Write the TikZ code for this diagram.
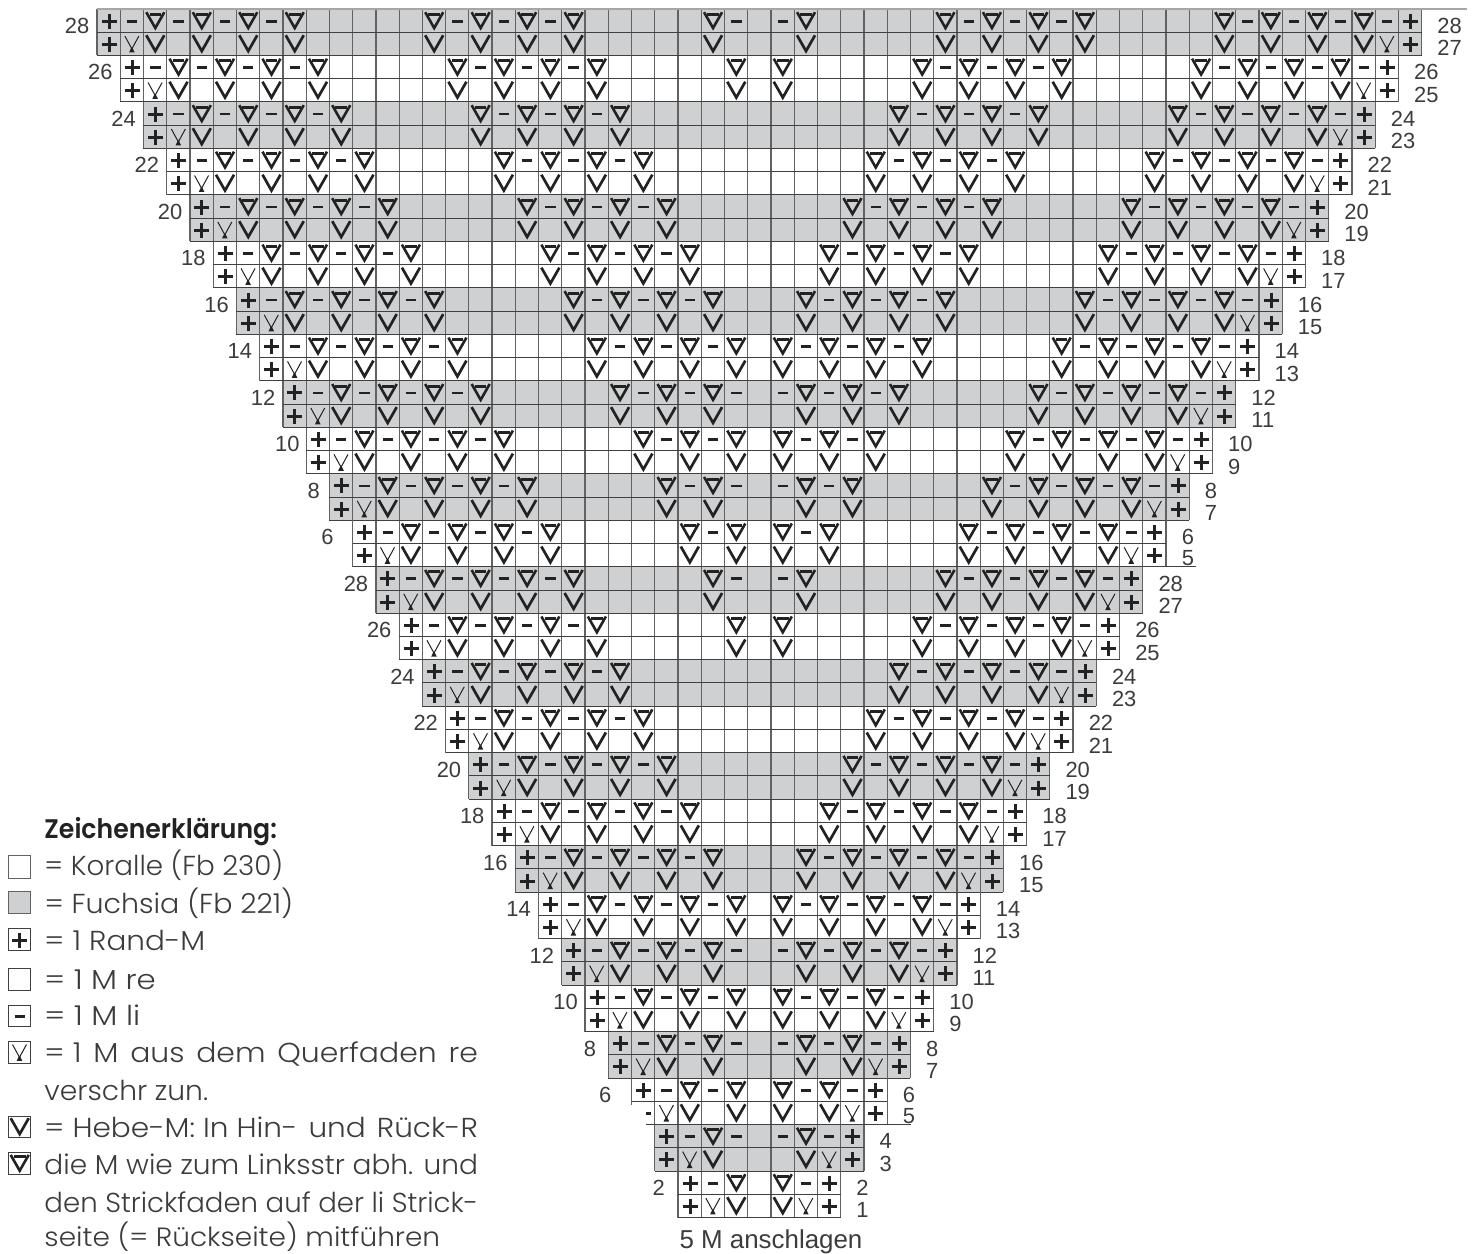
\documentclass[tikz,border=0pt]{standalone}
\usepackage{fontspec}
\usepackage{graphicx}
\setmainfont{Liberation Sans}
\newfontfamily\gothic{Poppins Light}
\newfontfamily\gothicbold{Poppins SemiBold}
\definecolor{chartgray}{HTML}{CFD0D2}
\definecolor{vline}{HTML}{626262}
\definecolor{hline}{HTML}{404040}
\definecolor{ink}{HTML}{222222}
\definecolor{labelink}{HTML}{3C3C3C}
\tikzset{
  gplus/.pic={\draw[ink,line width=3bp] (-7.1,.5)--(7.9,.5) (.4,-7)--(.4,8);},
  gminus/.pic={\draw[ink,line width=2.8bp] (-5,.5)--(5.4,.5);},
  gvee/.pic={\draw[ink,line width=2.7bp,miter limit=10] (-8.8,-8.6)--(.2,7.2)--(9.2,-8.6);},
  gtri/.pic={\draw[ink,line width=2.6bp,miter limit=10] (-8.8,-8.4)--(.2,7.4)--(9.2,-8.4);
             \draw[ink,line width=3bp] (-5.6,-6.4)--(6,-6.4);},
  gyarn/.pic={\draw[ink,line width=1bp] (-7,-7.8)--(0,5)--(7,-7.8);
              \fill[ink] (-2.8,8.6)--(2.8,8.6)--(.6,4)--(-.6,4)--cycle;},
  rownum/.style={inner sep=0pt,text=labelink,font=\fontsize{22}{24}\selectfont},
  legendtext/.style={inner sep=0pt,anchor=base west,text=labelink,font=\gothic\fontsize{27.5}{30}\selectfont},
  legendbox/.style={draw=hline,line width=1bp},
}
\begin{document}
\begin{tikzpicture}[x=1bp,y=-1bp]
\useasboundingbox (0,0) rectangle (1473,1253);
\def\cc{23.24}
\foreach \pp in {0,...,25}{
  \pgfmathsetmacro\xl{97+\pp*\cc}
  \pgfmathsetmacro\xr{97+(57-\pp)*\cc}
  \pgfmathsetmacro\yt{9+2*\pp*\cc}
  \pgfmathsetmacro\ym{\yt+\cc}
  \pgfmathsetmacro\yb{\yt+2*\cc}
  \pgfmathtruncatemacro\grey{mod(\pp,2)}
  \ifnum\grey=0 \fill[chartgray] (\xl,\yt) rectangle (\xr,\yb); \fi
  \pgfmathtruncatemacro\nc{57-2*\pp}
  \foreach \kk in {0,...,\nc}{
    \pgfmathsetmacro\xv{\xl+\kk*\cc}
    \draw[vline,line width=1.25bp] (\xv,\yt)--(\xv,\yb);
  }
  \draw[hline,line width=1bp] (\xl,\yt)--(\xr,\yt) (\xl,\ym)--(\xr,\ym) (\xl,\yb)--(\xr,\yb);
  \pgfmathsetmacro\yua{\yt+.5*\cc}
  \pgfmathsetmacro\yub{\ym+.5*\cc}
  \pgfmathtruncatemacro\jmax{27-\pp}
  \foreach \jj in {0,...,\jmax}{
    \pgfmathtruncatemacro\mm{mod(\jj,12)}
    \pgfmathsetmacro\xa{97+(\pp+\jj+.5)*\cc}
    \pgfmathsetmacro\xb{97+(56-\pp-\jj+.5)*\cc}
    \ifnum\jj=0
      \pic at (\xa,\yua) {gplus}; \pic at (\xa,\yub) {gplus};
      \pic at (\xb,\yua) {gplus}; \pic at (\xb,\yub) {gplus};
    \else\ifnum\jj=1
      \pic at (\xa,\yua) {gminus}; \pic at (\xa,\yub) {gyarn};
      \pic at (\xb,\yua) {gminus}; \pic at (\xb,\yub) {gyarn};
    \else
      \ifnum\mm=2 \def\gk{1}\else\ifnum\mm=4 \def\gk{1}\else\ifnum\mm=6 \def\gk{1}\else\ifnum\mm=8 \def\gk{1}\else
      \ifnum\mm=3 \def\gk{2}\else\ifnum\mm=5 \def\gk{2}\else\ifnum\mm=7 \def\gk{2}\else\def\gk{0}\fi\fi\fi\fi\fi\fi\fi
      \ifnum\gk=1
        \pic at (\xa,\yua) {gtri}; \pic at (\xa,\yub) {gvee};
        \pic at (\xb,\yua) {gtri}; \pic at (\xb,\yub) {gvee};
      \fi
      \ifnum\gk=2
        \pic at (\xa,\yua) {gminus};
        \pic at (\xb,\yua) {gminus};
      \fi
    \fi\fi
  }
  % row numbers
  \pgfmathtruncatemacro\nup{\pp<12 ? 28-2*\pp : 28-2*(\pp-12)}
  \pgfmathtruncatemacro\nlo{\nup-1}
  \pgfmathsetmacro\gapl{{7.5,7.5,7.5,7.5,7.5,7.5,7.5,7.5,7.5,6.5,9.5,19,7.5,7.5,7.5,7.5,7.5,7.5,7.5,7.5,7.5,7,12,20,0,13}[\pp]}
  \pgfmathsetmacro\lx{\xl-\gapl}
  \pgfmathsetmacro\rx{\xr+15.5}
  \pgfmathsetmacro\bla{\yua+12.8}
  \pgfmathsetmacro\blb{\yub+12}
  \ifnum\nup=4 \else \node[rownum,anchor=base east] (L\pp) at (\lx,\bla) {\nup}; \fi
  \node[rownum,anchor=base west] (Ra\pp) at (\rx,\bla) {\nup};
  \ifnum\nlo=5 \pgfmathsetmacro\blb{\yub+10.5}\fi
  \node[rownum,anchor=base west] (Rb\pp) at (\rx,\blb) {\nlo};
}
% top rule and rules under the two "5" rows
\draw[gray!70,line width=1.3bp] (97,9)--(1467,9);
\draw[hline,line width=1bp] (1166,566.8)--(1196,566.8);
\draw[hline,line width=1bp] (887,1124.5)--(911,1124.5);
% printing defect beside lower row 5
\fill[white] (629,1105) rectangle (646,1126);
\draw[hline,line width=1bp] (646,1124.5)--(655,1124.5);
% caption
\node[inner sep=0pt,anchor=base,text=labelink,font=\fontsize{26}{28}\selectfont] (cap) at (771,1248) {5 M anschlagen};
% legend
\node[inner sep=0pt,anchor=base west,text=ink,font=\gothicbold\fontsize{27}{30}\selectfont] (lg0) at (44.3,838.3) {\resizebox{232.4bp}{\height}{Zeichenerklärung:}};
\draw[vline,line width=1bp] (8.5,855) rectangle (30.5,878);
\draw[vline,line width=1bp,fill=chartgray] (8.5,891.7) rectangle (30.5,913.3);
\draw[legendbox] (8.5,928.3) rectangle (30.5,950.7);
\pic at (19.5,939.5) {gplus};
\draw[legendbox] (8.5,968.3) rectangle (30.5,990.7);
\draw[legendbox] (8.5,1005) rectangle (30.5,1026.7);
\pic at (19.5,1015.8) {gminus};
\draw[legendbox] (8.5,1041.7) rectangle (30.5,1063);
\pic at (19.5,1052.3) {gyarn};
\draw[legendbox] (8.5,1116) rectangle (30.5,1137.7);
\pic at (19.5,1126.8) {gvee};
\draw[legendbox] (8.5,1152.7) rectangle (30.5,1174);
\pic at (19.5,1163.3) {gtri};
\node[legendtext] (lg1) at (44.3,875.7) {\resizebox{238.7bp}{\height}{= Koralle (Fb 230)}};
\node[legendtext] (lg2) at (44.3,913) {\resizebox{248.7bp}{\height}{= Fuchsia (Fb 221)}};
\node[legendtext] (lg3) at (44.3,950.7) {\resizebox{160.7bp}{\height}{= 1 Rand-M}};
\node[legendtext] (lg4) at (44.3,989.3) {\resizebox{111.4bp}{\height}{= 1 M re}};
\node[legendtext] (lg5) at (44.3,1025.7) {\resizebox{95.7bp}{\height}{= 1 M li}};
\node[legendtext] (lg6) at (44.3,1062.3) {\resizebox{433.4bp}{\height}{= 1\hspace{.12em} M\hspace{.12em} aus\hspace{.12em} dem\hspace{.12em} Querfaden\hspace{.12em} re}};
\node[legendtext] (lg7) at (44.3,1100.7) {\resizebox{163.7bp}{\height}{verschr zun.}};
\node[legendtext] (lg8) at (44.3,1137.7) {\resizebox{433.4bp}{\height}{= Hebe-M: In Hin-\hspace{.1em} und\hspace{.1em} Rück-R}};
\node[legendtext] (lg9) at (44.3,1174.3) {\resizebox{433.4bp}{\height}{die M wie zum Linksstr abh. und}};
\node[legendtext] (lg10) at (44.3,1212.7) {\resizebox{433.7bp}{\height}{den Strickfaden auf der li Strick-}};
\node[legendtext,font=\gothic\fontsize{26.5}{30}\selectfont] (lg11) at (44.3,1246.5) {\resizebox{395.7bp}{\height}{seite (= Rückseite) mitführen}};
\end{tikzpicture}
\end{document}
